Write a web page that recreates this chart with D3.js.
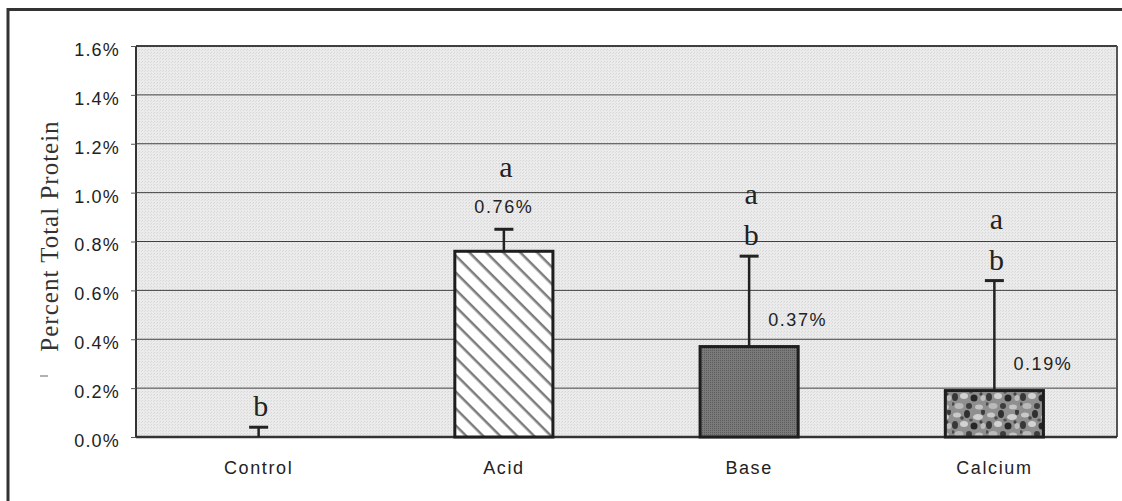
<!DOCTYPE html>
<html>
<head>
<meta charset="utf-8">
<script src="https://cdn.jsdelivr.net/npm/d3@7"></script>
<style>
  body { margin: 0; background: #fff; }
  svg { display: block; }
</style>
</head>
<body>
<div id="chart"></div>
<script>
var categories = ["Control", "Acid", "Base", "Calcium"];
var means = [0, 0.76, 0.37, 0.19];          // percent total protein
var errors = [0.04, 0.09, 0.37, 0.45];      // upper error bar
var valueLabels = ["", "0.76%", "0.37%", "0.19%"];
var labelSide = ["", "top", "right", "right"];
var letters = [["b"], ["a"], ["b", "a"], ["b", "a"]];   // bottom to top
var yTicks = [0, 0.2, 0.4, 0.6, 0.8, 1.0, 1.2, 1.4, 1.6];
var fills = ["none", "url(#hatch)", "url(#dark)", "url(#speckle)"];

var W = 1122, H = 501;
var margin = {top: 46, right: 5, bottom: 64, left: 136};
var width = W - margin.left - margin.right;
var height = H - margin.top - margin.bottom;

var svg = d3.select("#chart").append("svg")
    .attr("width", W)
    .attr("height", H);

var defs = svg.append("defs");

// light dithered background of the plot area
var bgPat = defs.append("pattern")
    .attr("id", "bg")
    .attr("patternUnits", "userSpaceOnUse")
    .attr("width", 3).attr("height", 3);
bgPat.append("rect").attr("width", 3).attr("height", 3).attr("fill", "#ebebeb");
bgPat.append("rect").attr("x", 0).attr("y", 0).attr("width", 1).attr("height", 1).attr("fill", "#d6d6d6");
bgPat.append("rect").attr("x", 2).attr("y", 1).attr("width", 1).attr("height", 1).attr("fill", "#dcdcdc");

// diagonal hatch for Acid
var hatch = defs.append("pattern")
    .attr("id", "hatch")
    .attr("patternUnits", "userSpaceOnUse")
    .attr("width", 12).attr("height", 12)
    .attr("patternTransform", "rotate(45)");
hatch.append("rect").attr("width", 12).attr("height", 12).attr("fill", "#fff");
hatch.append("rect").attr("y", 5).attr("width", 12).attr("height", 2.5).attr("fill", "#7d7d7d");

// dark gray for Base
var dark = defs.append("pattern")
    .attr("id", "dark")
    .attr("patternUnits", "userSpaceOnUse")
    .attr("width", 2).attr("height", 2);
dark.append("rect").attr("width", 2).attr("height", 2).attr("fill", "#7a7a7a");
dark.append("rect").attr("width", 1).attr("height", 1).attr("fill", "#5c5c5c");

// mottled texture for Calcium
var speckle = defs.append("pattern")
    .attr("id", "speckle")
    .attr("patternUnits", "userSpaceOnUse")
    .attr("width", 34).attr("height", 28);
speckle.append("rect").attr("width", 34).attr("height", 28).attr("fill", "#8f8f8f");
[[5,5,4,2.5,"#c9c9c9"],[15,4,3,4,"#2f2f2f"],[26,7,5,3,"#cfcfcf"],[31,2,2,3,"#3a3a3a"],
 [3,15,3,4,"#383838"],[12,14,4,3,"#d2d2d2"],[22,16,3.5,3.5,"#262626"],[31,16,2.5,3,"#bdbdbd"],
 [7,24,4.5,3,"#bababa"],[17,24,3,3,"#3d3d3d"],[27,25,4,2.5,"#c4c4c4"],[10,8,1.8,1.8,"#4a4a4a"],
 [19,10,1.8,1.6,"#555"],[29,12,1.6,1.8,"#444"],[1,22,1.6,1.8,"#4d4d4d"]]
  .forEach(function (c) {
    speckle.append("ellipse")
        .attr("cx", c[0]).attr("cy", c[1])
        .attr("rx", c[2]).attr("ry", c[3])
        .attr("fill", c[4]);
  });

// outer frame
svg.append("rect")
    .attr("x", 8).attr("y", 9.5)
    .attr("width", W + 20).attr("height", H + 20)
    .attr("fill", "none")
    .attr("stroke", "#333")
    .attr("stroke-width", 3);

var g = svg.append("g")
    .attr("transform", "translate(" + margin.left + "," + margin.top + ")");

var x = d3.scaleBand()
    .domain(categories)
    .range([0, width])
    .paddingInner(0.6)
    .paddingOuter(0.3);

var y = d3.scaleLinear()
    .domain([0, 1.6])
    .range([height, 0]);

g.append("rect")
    .attr("width", width).attr("height", height)
    .attr("fill", "url(#bg)");

// gridlines
g.selectAll(".grid")
    .data(yTicks.slice(1))
    .enter().append("line")
    .attr("class", "grid")
    .attr("x1", 0).attr("x2", width)
    .attr("y1", function (d) { return y(d); })
    .attr("y2", function (d) { return y(d); })
    .attr("stroke", "#404040")
    .attr("stroke-width", function (d) { return d === 1.6 ? 2 : 1; });

// right border
g.append("line")
    .attr("x1", width).attr("x2", width)
    .attr("y1", 0).attr("y2", height)
    .attr("stroke", "#555").attr("stroke-width", 2);

// y axis
var yAxis = g.append("g")
    .call(d3.axisLeft(y)
        .tickValues(yTicks)
        .tickSize(5)
        .tickPadding(11)
        .tickFormat(function (d) { return d.toFixed(1) + "%"; }));
yAxis.select(".domain").attr("stroke", "#333").attr("stroke-width", 2).attr("d", "M0,0V" + height);
yAxis.selectAll(".tick line").attr("stroke", "#555");
yAxis.selectAll("text")
    .attr("font-family", "'Liberation Sans', Arial, sans-serif")
    .attr("font-size", "18px")
    .attr("letter-spacing", "1.2px")
    .attr("fill", "#222")
    .attr("dy", "0.52em");

// x axis
var xAxis = g.append("g")
    .attr("transform", "translate(0," + height + ")")
    .call(d3.axisBottom(x).tickSize(0).tickPadding(24));
xAxis.select(".domain").attr("stroke", "#333").attr("stroke-width", 2.5).attr("d", "M0,0H" + width);
xAxis.selectAll("text")
    .attr("font-family", "'Liberation Sans', Arial, sans-serif")
    .attr("font-size", "18px")
    .attr("letter-spacing", "1.6px")
    .attr("fill", "#222");

// bars
var cx = function (i) { return x(categories[i]) + x.bandwidth() / 2; };
g.selectAll(".bar")
    .data(means)
    .enter().append("rect")
    .attr("class", "bar")
    .attr("x", function (d, i) { return x(categories[i]); })
    .attr("y", function (d) { return y(d); })
    .attr("width", x.bandwidth())
    .attr("height", function (d) { return height - y(d); })
    .attr("fill", function (d, i) { return fills[i]; })
    .attr("stroke", function (d) { return d > 0 ? "#1e1e1e" : "none"; })
    .attr("stroke-width", 3);

// error bars
var errG = g.selectAll(".err")
    .data(means)
    .enter().append("g")
    .attr("class", "err");
errG.append("line")
    .attr("x1", function (d, i) { return cx(i); })
    .attr("x2", function (d, i) { return cx(i); })
    .attr("y1", function (d) { return y(d); })
    .attr("y2", function (d, i) { return y(d + errors[i]); })
    .attr("stroke", "#222").attr("stroke-width", 2.5);
errG.append("line")
    .attr("x1", function (d, i) { return cx(i) - 9.5; })
    .attr("x2", function (d, i) { return cx(i) + 9.5; })
    .attr("y1", function (d, i) { return y(d + errors[i]); })
    .attr("y2", function (d, i) { return y(d + errors[i]); })
    .attr("stroke", "#222").attr("stroke-width", 3);

// value labels
g.selectAll(".vlab")
    .data(means)
    .enter().append("text")
    .attr("class", "vlab")
    .attr("x", function (d, i) { return labelSide[i] === "right" ? cx(i) + 19 : cx(i); })
    .attr("y", function (d, i) {
        return labelSide[i] === "right" ? y(d) - 21 : y(d + errors[i]) - 16;
    })
    .attr("text-anchor", function (d, i) { return labelSide[i] === "right" ? "start" : "middle"; })
    .attr("font-family", "'Liberation Sans', Arial, sans-serif")
    .attr("font-size", "18px")
    .attr("letter-spacing", "1.6px")
    .attr("fill", "#222")
    .text(function (d, i) { return valueLabels[i]; });

// significance letters
means.forEach(function (d, i) {
    var base = y(d + errors[i]) - 11 - (labelSide[i] === "top" ? 41 : 0);
    letters[i].forEach(function (l, k) {
        g.append("text")
            .attr("x", cx(i) + 2)
            .attr("y", base - k * 41)
            .attr("text-anchor", "middle")
            .attr("font-family", "'Liberation Serif', 'Times New Roman', serif")
            .attr("font-size", "30px")
            .attr("fill", "#222")
            .text(l);
    });
});

// y title
svg.append("text")
    .attr("transform", "translate(58,236) rotate(-90)")
    .attr("text-anchor", "middle")
    .attr("font-family", "'Liberation Serif', 'Times New Roman', serif")
    .attr("font-size", "25px")
    .attr("letter-spacing", "1px")
    .attr("fill", "#333")
    .text("Percent Total Protein");

// small stray mark left of the axis
svg.append("line")
    .attr("x1", 40).attr("x2", 48)
    .attr("y1", 376).attr("y2", 376)
    .attr("stroke", "#999").attr("stroke-width", 1.5);
</script>
</body>
</html>
